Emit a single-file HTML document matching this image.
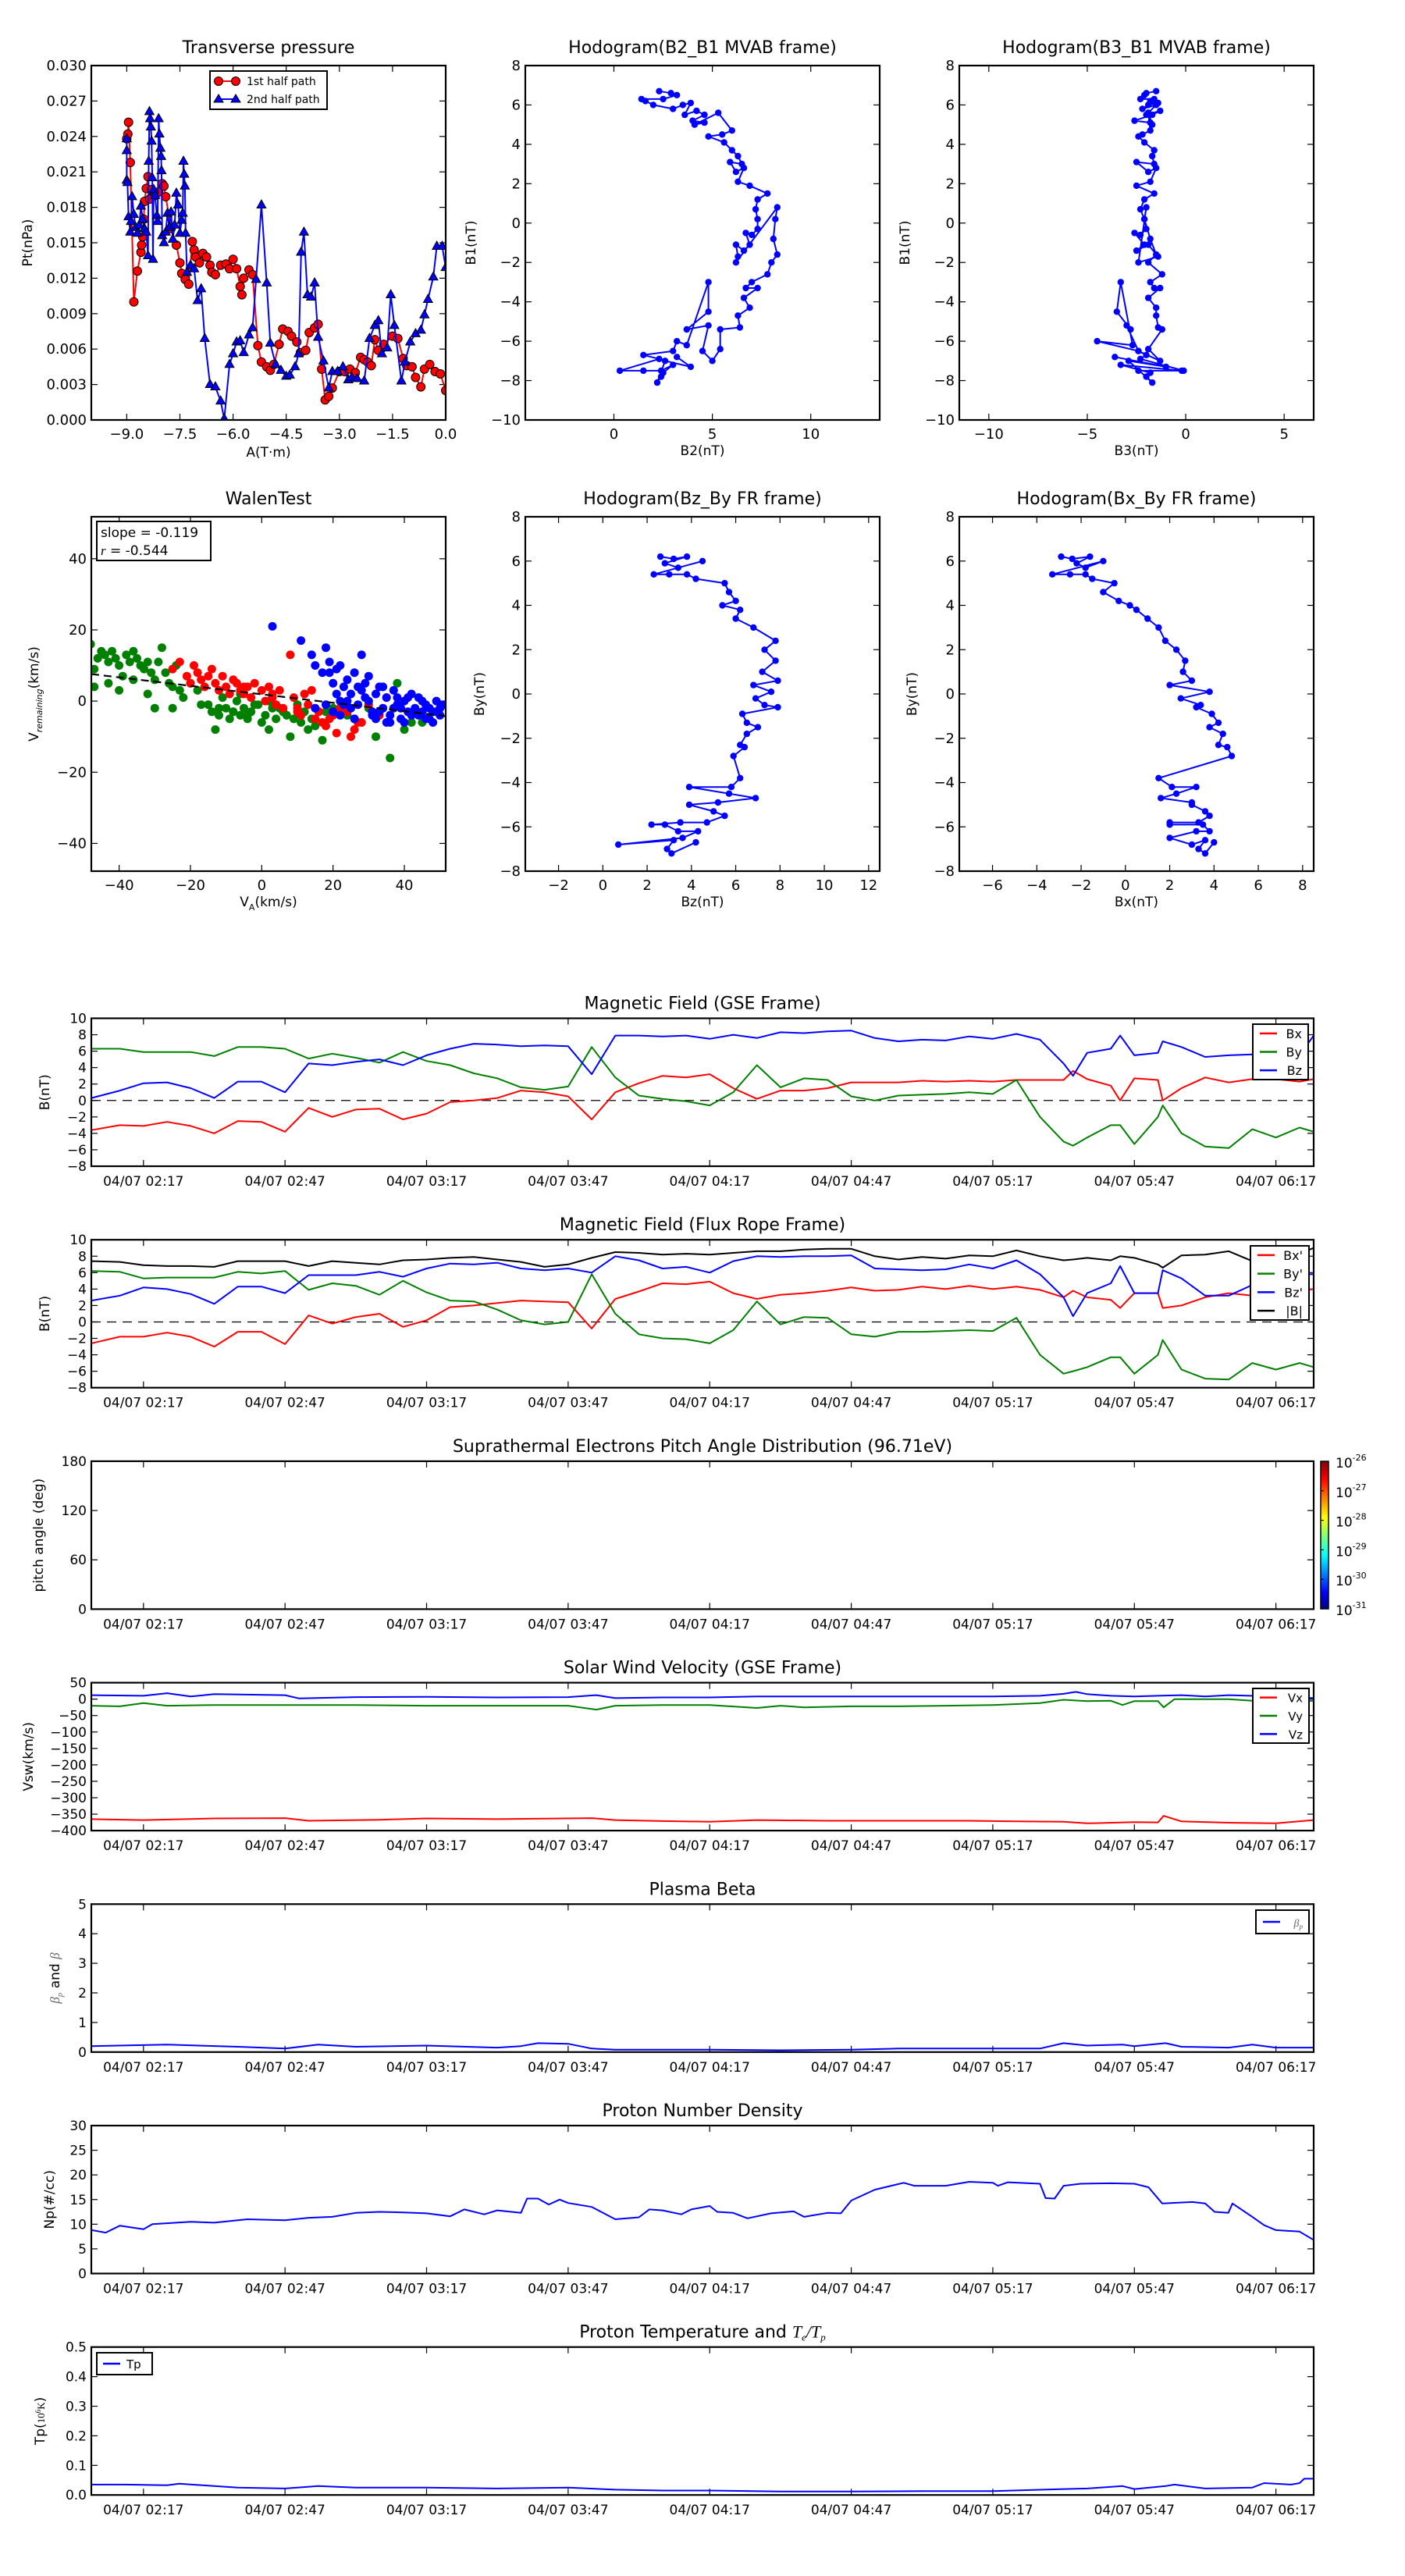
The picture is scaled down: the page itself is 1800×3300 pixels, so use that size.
<!DOCTYPE html>
<html><head><meta charset="utf-8"><title>Flux rope analysis</title>
<style>
html,body{margin:0;padding:0;background:#fff;}
svg{display:block;font-family:"DejaVu Sans","Liberation Sans",sans-serif;}
</style></head>
<body>
<svg id="chart" xmlns="http://www.w3.org/2000/svg" width="1800" height="3300" viewBox="0 0 1800 3300">
<rect x="0" y="0" width="1800" height="3300" fill="#fff"/>
<defs>
<linearGradient id="jet" x1="0" y1="1" x2="0" y2="0">
<stop offset="0" stop-color="#000080"/><stop offset="0.11" stop-color="#0000ff"/><stop offset="0.36" stop-color="#00ffff"/><stop offset="0.62" stop-color="#ffff00"/><stop offset="0.88" stop-color="#ff0000"/><stop offset="1" stop-color="#800000"/>
</linearGradient>
</defs>
</svg>
<script>
// ===== DATA =====
const tp1A=[-9.0,-8.97,-8.95,-8.9,-8.8,-8.7,-8.6,-8.58,-8.55,-8.52,-8.5,-8.45,-8.4,-8.35,-8.3,-8.2,-8.1,-8.0,-7.95,-7.9,-7.75,-7.6,-7.5,-7.45,-7.35,-7.25,-7.15,-7.1,-7.05,-6.95,-6.85,-6.75,-6.65,-6.6,-6.5,-6.35,-6.2,-6.1,-6.0,-5.9,-5.8,-5.75,-5.7,-5.55,-5.45,-5.3,-5.2,-5.05,-4.95,-4.85,-4.7,-4.6,-4.45,-4.35,-4.2,-4.1,-3.95,-3.85,-3.7,-3.6,-3.5,-3.4,-3.3,-3.2,-3.0,-2.85,-2.7,-2.55,-2.4,-2.3,-2.2,-2.1,-2.0,-1.9,-1.75,-1.5,-1.35,-1.2,-1.1,-0.95,-0.85,-0.7,-0.6,-0.45,-0.3,-0.15,0];
const tp1P=[23.8,24.2,25.2,21.8,10.0,12.6,14.2,14.8,15.5,17,18.5,19.6,20.6,18.7,19.5,19.0,19.3,20.0,19.8,18.9,16.2,14.8,13.3,12.4,11.9,11.5,15.1,14.4,13.8,13.3,14.1,13.8,13.1,12.5,12.3,13.1,13.2,12.8,13.6,12.8,11.3,10.6,12.0,12.7,12.3,6.3,4.9,4.5,4.2,4.7,6.4,7.7,7.5,7.1,6.6,5.7,5.9,7.4,7.8,8.1,4.3,1.7,2.0,2.7,4.1,4.1,4.3,4.0,5.3,5.1,4.9,4.6,6.8,5.9,6.4,7.1,6.9,5.2,4.6,4.5,3.6,2.8,4.3,4.7,4.1,3.9,2.5];
const tp2A=[-9.0,-9.0,-9.0,-8.98,-8.95,-8.9,-8.88,-8.85,-8.8,-8.75,-8.7,-8.65,-8.6,-8.55,-8.5,-8.45,-8.4,-8.38,-8.36,-8.34,-8.32,-8.3,-8.28,-8.26,-8.24,-8.2,-8.15,-8.13,-8.1,-8.08,-8.05,-8.03,-8.02,-8.0,-7.95,-7.9,-7.85,-7.8,-7.75,-7.7,-7.65,-7.6,-7.55,-7.5,-7.45,-7.42,-7.4,-7.38,-7.36,-7.34,-7.3,-7.2,-7.1,-7.0,-6.9,-6.8,-6.65,-6.5,-6.35,-6.25,-6.1,-6.0,-5.9,-5.8,-5.7,-5.55,-5.45,-5.35,-5.2,-5.05,-4.95,-4.8,-4.65,-4.5,-4.4,-4.25,-4.15,-4.08,-4.0,-3.9,-3.8,-3.7,-3.6,-3.45,-3.3,-3.2,-3.05,-2.9,-2.75,-2.65,-2.5,-2.3,-2.15,-2.0,-1.9,-1.8,-1.65,-1.55,-1.45,-1.25,-1.15,-1.0,-0.85,-0.7,-0.6,-0.5,-0.35,-0.25,-0.1,0];
const tp2P=[23.8,22.8,20.3,20.1,17.2,15.9,16.8,18.9,17.4,16.3,15.8,16.5,18.1,17.0,16.2,15.9,13.9,21.9,26.1,25.5,24.8,23.6,20.5,13.6,19.5,19.0,17.3,16.8,25.5,24.2,23.0,22.3,21.1,15.6,15.0,15.9,17.5,16.3,17.6,15.3,16.5,19.2,18.2,15.8,16.9,17.5,21.9,20.8,19.8,15.8,12.5,13.1,12.8,10.1,11.1,6.9,3.0,2.8,1.6,0.1,4.7,5.6,6.6,6.7,5.7,7.2,7.8,11.9,18.2,11.6,6.5,4.7,4.2,3.7,3.8,4.5,5.6,14.2,15.9,10.6,10.4,11.6,7.0,5.0,2.7,4.1,4.1,4.5,3.4,3.6,3.5,3.3,6.9,8.0,8.4,5.6,6.1,10.6,8.0,3.3,4.9,6.6,7.3,7.6,8.9,10.2,12.1,14.7,14.7,12.9];

const mvB1=[6.7,6.6,6.5,6.3,6.3,6.2,6.0,5.8,6.0,6.1,5.5,5.7,5.5,5.2,5.1,5.0,5.6,4.7,4.5,4.4,4.1,3.7,3.4,3.0,3.1,2.6,2.8,2.1,1.9,1.5,1.2,0.7,0.2,-0.3,-0.6,-0.5,-1.1,-1.4,-1.1,-1.7,-2.0,0.8,0.2,-0.8,-1.6,-2.0,-2.6,-3.0,-3.3,-3.3,-3.8,-4.3,-4.7,-5.3,-5.4,-6.4,-7.0,-6.5,-5.2,-5.4,-4.5,-3.0,-6.2,-6.0,-6.5,-6.7,-6.9,-7.5,-7.5,-7.5,-7.2,-7.6,-7.8,-8.1,-7.0,-7.3,-6.8];
const mvB2=[2.3,2.9,3.2,2.5,1.4,1.6,2.0,3.0,3.5,3.9,3.6,4.2,4.6,4.0,4.6,4.1,5.3,6.0,5.5,4.8,5.6,6.0,6.3,6.5,5.9,6.2,6.6,6.3,6.9,7.8,7.3,7.2,7.3,7.3,7.0,6.7,6.9,6.6,6.2,6.3,6.2,8.3,8.2,8.1,8.3,8.0,7.8,7.0,6.7,7.3,6.6,6.9,6.3,6.4,5.4,5.4,5.0,4.5,4.8,3.7,4.8,4.8,3.7,3.2,3.0,1.5,2.3,0.3,1.5,2.4,3.0,2.5,2.4,2.2,2.6,3.9,3.2];
const mvB3=[-1.5,-2.0,-2.1,-2.3,-1.6,-1.8,-1.5,-2.2,-1.9,-1.4,-2.0,-1.3,-1.7,-2.6,-1.8,-1.7,-1.9,-1.8,-2.2,-2.4,-2.1,-1.6,-1.7,-1.6,-2.5,-1.9,-1.5,-1.8,-2.5,-1.6,-2.1,-2.3,-2.1,-2.0,-2.3,-2.6,-2.1,-2.5,-1.9,-1.4,-2.4,-2.0,-2.1,-1.8,-1.5,-1.9,-1.2,-1.8,-1.6,-1.3,-1.9,-1.5,-1.5,-1.4,-1.2,-1.9,-1.3,-2.4,-3.0,-2.8,-3.5,-3.3,-2.7,-4.5,-2.4,-2.0,-2.3,-0.1,-2.4,-0.2,-3.3,-1.8,-2.0,-1.7,-2.9,-1.0,-3.6];

const walenGreenVA=[-48,-47,-46,-45,-44,-43,-42,-41,-40,-39,-38,-37,-36,-35,-34,-33,-32,-31,-30,-29,-28,-27,-26,-25,-24,-23,-32,-30,-25,-20,-18,-15,-14,-13,-12,-11,-10,-9,-8,-7,-6,-5,-4,-3,-2,0,1,2,3,4,6,8,9,11,13,15,17,18,20,24,28,30,32,36,38,40,45,-43,-40,-36,-47,-22,-17,-6,2,10,-12,-8,-4,-1,5,7,12,14,16,26,33,42];
const walenGreenVR=[16,4,12,14,13,11,14,12,10,7,13,11,14,12,10,9,11,8,6,11,15,8,5,4,10,3,2,-2,-2,5,3,-1,-3,-8,-4,1,-2,-5,-3,0,-4,-2,-5,-3,-1,-6,-4,-8,-2,-5,-3,-10,-5,-6,-8,-7,-11,-3,-2,-4,-6,-2,-10,-16,5,-8,-6,5,3,6,9,1,-1,2,0,-1,-2,-3,-4,-1,-2,-4,-3,-5,-3,-5,-3,-6];
const walenRedVA=[-25,-23,-21,-20,-19,-18,-17,-16,-15,-14,-13,-12,-11,-10,-9,-8,-7,-6,-5,-4,-3,-2,0,1,2,3,4,5,6,8,9,10,11,12,13,14,15,16,17,18,19,20,21,22,24,25,26,28,30,33,35,-5,3,10,20,27];
const walenRedVR=[9,11,7,5,10,8,6,4,7,9,5,3,7,4,2,6,5,3,2,4,1,5,3,0,4,2,-1,3,-2,13,1,-3,-4,2,-1,3,-5,-3,-6,-7,-5,-4,-9,-2,-3,-10,-8,-6,-1,-4,1,4,1,-2,-3,-6];
const walenBlueVA=[3,11,14,18,22,28,15,17,19,20,21,23,24,25,26,27,28,29,30,31,32,33,34,35,36,37,38,39,40,41,42,43,44,45,46,47,48,49,50,51,18,20,22,24,26,30,32,34,36,38,40,42,44,46,48,50,22,25,27,33,37,41,45,35,15,19,21,23,29,31,39,43,47,49];
const walenBlueVR=[21,17,13,15,10,13,10,8,11,5,9,4,6,2,8,-1,3,5,0,-3,2,4,-2,1,-4,3,-1,-5,0,-3,2,-2,-4,0,-5,-2,-3,0,-4,-1,-1,-3,-4,0,-5,7,-5,4,-6,1,-6,-4,1,-1,-6,-2,0,-2,4,-3,-2,1,-3,-6,-2,8,2,-1,1,-4,-2,-3,-5,-3];
const walenFit=[-0.119,1.9];
const walenStats=["-0.119","-0.544"];

const frhBz=[2.6,3.2,3.8,2.8,3.4,4.5,2.3,3.0,3.8,4.2,5.5,5.7,6.0,5.4,6.2,6.0,6.8,7.8,7.3,7.8,7.2,7.9,6.8,7.6,6.9,7.3,7.9,6.3,6.5,7.0,6.5,6.2,6.4,5.9,6.2,5.8,3.9,5.7,6.9,5.2,3.9,5.0,5.5,4.7,3.5,2.2,2.8,3.4,4.3,3.6,0.7,3.2,2.9,3.1,4.2];
const frhBy=[6.2,6.1,6.2,5.9,5.7,6.0,5.4,5.4,5.4,5.2,5.0,4.6,4.2,4.0,3.8,3.4,3.0,2.4,2.0,1.5,1.0,0.6,0.4,0.1,-0.2,-0.5,-0.6,-0.9,-1.3,-1.5,-1.8,-2.3,-2.4,-2.8,-3.8,-4.2,-4.2,-4.5,-4.7,-4.9,-5.0,-5.3,-5.5,-5.8,-5.8,-5.9,-5.9,-6.2,-6.2,-6.5,-6.8,-6.6,-7.0,-7.2,-6.7];
const frhBx=[-2.9,-2.4,-1.6,-2.2,-1.8,-1.0,-3.3,-2.5,-1.8,-1.5,-0.5,-1.0,-0.3,0.2,0.5,1.0,1.5,1.8,2.3,2.7,2.6,3.0,2.0,3.8,2.5,3.4,3.2,3.9,4.2,3.8,4.4,4.2,4.6,4.8,1.5,2.1,3.2,2.3,1.6,3.0,3.0,3.6,3.8,3.3,2.0,2.0,3.5,3.8,3.2,2.0,3.0,3.6,3.3,3.6,4.0];

const tickTimes=[0,30,60,90,120,150,180,210,240];
const tickLabels=["04/07 02:17","04/07 02:47","04/07 03:17","04/07 03:47","04/07 04:17","04/07 04:47","04/07 05:17","04/07 05:47","04/07 06:17"];
const magT=[-11,-5,0,5,10,15,20,25,30,35,40,45,50,55,60,65,70,75,80,85,90,95,100,105,110,115,120,125,130,135,140,145,150,155,160,165,170,175,180,185,190,195,197,200,205,207,210,215,216,220,225,230,235,240,245,248];
const gseBx=[-3.6,-3.0,-3.1,-2.6,-3.1,-4.0,-2.5,-2.6,-3.8,-0.9,-2.0,-1.1,-1.0,-2.3,-1.6,-0.2,0.0,0.3,1.2,1.0,0.5,-2.3,1.0,2.1,3.0,2.8,3.2,1.5,0.2,1.2,1.2,1.5,2.2,2.2,2.2,2.4,2.3,2.4,2.3,2.5,2.5,2.5,3.6,2.6,1.8,0.0,2.7,2.5,0.0,1.5,2.8,2.2,2.6,2.6,2.3,2.6];
const gseBy=[6.3,6.3,5.9,5.9,5.9,5.4,6.5,6.5,6.3,5.1,5.7,5.2,4.6,5.9,4.8,4.3,3.3,2.7,1.6,1.3,1.7,6.5,2.8,0.6,0.2,-0.1,-0.6,1.0,4.3,1.6,2.7,2.5,0.5,0.0,0.6,0.7,0.8,1.0,0.8,2.5,-2.0,-5.0,-5.5,-4.5,-3.0,-3.0,-5.3,-2.0,-0.6,-4.0,-5.6,-5.8,-3.5,-4.5,-3.3,-3.8];
const gseBz=[0.3,1.2,2.1,2.2,1.5,0.3,2.3,2.3,1.0,4.5,4.3,4.7,5.0,4.3,5.5,6.3,6.9,6.8,6.6,6.7,6.6,3.2,7.9,7.9,7.8,7.9,7.5,8.0,7.6,8.3,8.2,8.4,8.5,7.6,7.2,7.4,7.3,7.8,7.5,8.1,7.4,4.5,3.0,5.8,6.3,7.9,5.5,5.8,7.2,6.5,5.3,5.5,5.6,5.5,5.5,7.9];
const frBx=[-2.6,-1.8,-1.8,-1.3,-1.8,-3.0,-1.2,-1.2,-2.7,0.8,-0.2,0.6,1.0,-0.6,0.2,1.8,2.0,2.3,2.6,2.5,2.4,-0.8,2.8,3.7,4.7,4.6,4.9,3.5,2.8,3.3,3.5,3.8,4.2,3.8,3.9,4.3,4.0,4.4,4.0,4.3,3.9,3.0,3.8,3.0,2.7,1.7,3.5,3.5,1.7,2.0,3.0,3.5,3.2,3.5,3.8,4.0];
const frBy=[6.2,6.1,5.3,5.4,5.4,5.4,6.1,5.9,6.2,3.9,4.7,4.4,3.3,5.0,3.6,2.6,2.5,1.5,0.2,-0.3,0.0,5.8,1.0,-1.5,-2.0,-2.1,-2.6,-1.0,2.5,-0.3,0.6,0.5,-1.5,-1.8,-1.2,-1.2,-1.1,-1.0,-1.1,0.5,-4.0,-6.3,-6.0,-5.5,-4.3,-4.3,-6.3,-4.0,-2.2,-5.8,-6.9,-7.0,-5.0,-5.8,-5.0,-5.5];
const frBz=[2.6,3.2,4.2,4.0,3.4,2.2,4.3,4.3,3.5,5.7,5.7,5.7,6.1,5.5,6.5,7.1,7.0,7.2,6.5,6.3,6.5,6.0,8.0,7.5,6.5,6.7,6.0,7.4,8.0,7.9,8.0,8.0,8.1,6.5,6.4,6.3,6.4,7.0,6.5,7.5,5.8,3.0,0.7,3.5,4.7,6.8,3.5,3.5,6.3,5.3,3.2,3.2,4.5,5.0,5.8,5.8];
const frBt=[7.4,7.3,6.9,6.8,6.8,6.7,7.4,7.4,7.4,6.8,7.4,7.2,7.0,7.5,7.6,7.8,7.9,7.6,7.3,6.7,7.0,7.8,8.5,8.4,8.2,8.3,8.2,8.4,8.6,8.6,8.8,8.9,8.9,8.0,7.6,7.9,7.7,8.1,8.0,8.7,8.0,7.5,7.6,7.8,7.5,8.0,7.8,7.0,6.6,8.1,8.2,8.6,7.4,8.0,8.3,9.0];
const vxT=[-11,0,15,30,35,50,60,75,95,100,110,120,130,145,160,175,185,195,200,210,215,216.2,220,230,240,248];
const vxV=[-365,-368,-363,-362,-370,-367,-363,-365,-362,-368,-371,-373,-368,-370,-370,-370,-372,-373,-378,-374,-375,-355,-372,-376,-378,-368];
const vyT=[-11,-5,0,5,15,30,45,60,75,90,96,100,110,120,130,135,140,150,160,170,180,190,195,200,205,207.5,210,215,216.2,218.5,230,235,240,248];
const vyV=[-20,-22,-12,-20,-18,-18,-18,-20,-20,-20,-32,-20,-18,-18,-27,-20,-25,-22,-22,-20,-18,-12,-2,-6,-5,-18,-6,-6,-25,0,0,-5,-10,-5];
const vzT=[-11,0,5,10,15,30,33,45,60,75,90,96,100,110,120,130,145,160,180,190,195,197.6,200,205,210,215,220,225,230,240,248];
const vzV=[12,10,18,8,15,12,2,6,7,5,6,12,3,5,5,8,8,8,8,10,16,22,15,10,8,10,12,8,12,8,3];
const betaT=[-11,5,20,30,37,45,60,75,80,83.6,90,95,100,110,120,135,150,160,175,190,195,200,207.5,210,216.6,220,230,235,240,248];
const betaV=[0.2,0.25,0.18,0.12,0.25,0.18,0.22,0.15,0.2,0.3,0.28,0.12,0.08,0.08,0.08,0.06,0.08,0.12,0.12,0.12,0.3,0.22,0.25,0.2,0.3,0.18,0.15,0.25,0.15,0.15];
const npT=[-11,-8,-5,0,1.9,10,15,22,30,35,40,45,50,55,60,65,68,72.2,75,80,81.3,83.6,85.9,88.2,90,95,100,105,107.2,110,114,116.1,120,121.6,125,128,133,137.8,140,145,147.8,150,155,161.1,163.4,170,175,180,181.1,183.2,190,191.2,193.1,195,198.6,205,210,213,215.9,222.3,225,227,229.9,230.8,235,237.5,240,245,248];
const npV=[8.8,8.3,9.7,9.0,10,10.5,10.3,11,10.8,11.3,11.5,12.3,12.5,12.4,12.2,11.6,13.0,12.0,12.8,12.3,15.2,15.2,14.0,15.0,14.3,13.5,11.0,11.4,13.0,12.8,12.0,13.0,13.7,12.5,12.3,11.2,12.2,12.6,11.5,12.3,12.2,14.8,17.0,18.4,17.8,17.8,18.6,18.4,17.8,18.5,18.2,15.3,15.2,17.8,18.2,18.3,18.2,17.5,14.2,14.5,14.2,12.5,12.3,14.2,11.5,9.8,8.8,8.5,6.8];
const tpT=[-11,-3.8,5,7.6,15,20,30,37,45,60,75,90,100,110,120,135,150,165,180,195,200,207.5,210,216.6,218.5,225,235,237.5,243.2,245,246,248];
const tpV=[0.035,0.035,0.033,0.038,0.03,0.025,0.022,0.03,0.025,0.025,0.022,0.025,0.018,0.015,0.015,0.012,0.012,0.013,0.013,0.02,0.022,0.03,0.02,0.03,0.035,0.022,0.025,0.04,0.035,0.04,0.055,0.055];
const cbarLabels=["-26","-27","-28","-29","-30","-31"];

// ===== DRAWING =====
const NS='http://www.w3.org/2000/svg';
const svg=document.getElementById('chart');
function mk(parent,tag,name,attrs,text){
  const el=document.createElementNS(NS,tag);
  
  
  for(const k in attrs) el.setAttribute(k,attrs[k]);
  if(text!==undefined) el.textContent=text;
  parent.appendChild(el);
  return el;
}
function lin(d0,d1,r0,r1){return v=>r0+(v-d0)*(r1-r0)/(d1-d0);}
let clipId=0;
function fmtNum(v,dec){const s=Math.abs(v).toFixed(dec);return (v<0?'\u2212':'')+s;}
function axes(o){
  const g=mk(svg,'g',o.name,{});
  const sx=lin(o.xd[0],o.xd[1],o.x0,o.x1), sy=lin(o.yd[0],o.yd[1],o.y1,o.y0);
  const cid='clip'+(clipId++);
  const cp=mk(g,'clipPath','clip-region',{id:cid});
  mk(cp,'rect','clip-rect',{x:o.x0,y:o.y0,width:o.x1-o.x0,height:o.y1-o.y0});
  const fs=o.fs||18;
  o.xt.forEach((v,i)=>{
    const x=sx(v);
    mk(g,'line','x-tick',{x1:x,x2:x,y1:o.y1,y2:o.y1-8,stroke:'#000','stroke-width':1.2});
    mk(g,'line','x-tick-top',{x1:x,x2:x,y1:o.y0,y2:o.y0+8,stroke:'#000','stroke-width':1.2});
    mk(g,'text','x-tick-label',{x:x,y:o.y1+(o.xly||23),'text-anchor':'middle','font-size':o.xfs||fs,fill:'#000'},o.xl[i]);
  });
  o.yt.forEach((v,i)=>{
    const y=sy(v);
    mk(g,'line','y-tick',{x1:o.x0,x2:o.x0+8,y1:y,y2:y,stroke:'#000','stroke-width':1.2});
    mk(g,'line','y-tick-right',{x1:o.x1,x2:o.x1-8,y1:y,y2:y,stroke:'#000','stroke-width':1.2});
    mk(g,'text','y-tick-label',{x:o.x0-6,y:y+6,'text-anchor':'end','font-size':fs,fill:'#000'},o.yl[i]);
  });
  if(o.title){
    const t=mk(g,'text','chart-title',{x:(o.x0+o.x1)/2,y:o.y0-(o.ty||12),'text-anchor':'middle','font-size':o.tfs||22,fill:'#000'});
    t.innerHTML=o.title;
  }
  if(o.xlabel){
    const t=mk(g,'text','x-axis-title',{x:(o.x0+o.x1)/2,y:o.xlabY,'text-anchor':'middle','font-size':17,fill:'#000'});
    t.innerHTML=o.xlabel;
  }
  if(o.ylabel){
    const ym=(o.y0+o.y1)/2;
    const t=mk(g,'text','y-axis-title',{x:o.ylabX,y:ym,'text-anchor':'middle','font-size':o.ylfs||17,fill:'#000',transform:`rotate(-90 ${o.ylabX} ${ym})`});
    t.innerHTML=o.ylabel;
  }
  const data=mk(g,'g','plot-area',{'clip-path':`url(#${cid})`});
  mk(g,'rect','axes-frame',{x:o.x0,y:o.y0,width:o.x1-o.x0,height:o.y1-o.y0,fill:'none',stroke:'#000','stroke-width':2.2});
  return {g,data,sx,sy,o};
}
function line(ax,xs,ys,color,name,w){
  const pts=xs.map((x,i)=>ax.sx(x).toFixed(1)+','+ax.sy(ys[i]).toFixed(1)).join(' ');
  return mk(ax.data,'polyline',name,{points:pts,fill:'none',stroke:color,'stroke-width':w||2,'stroke-linejoin':'round'});
}
function dots(ax,xs,ys,color,name,r,edge){
  xs.forEach((x,i)=>{
    const c=mk(ax.data,'circle',name,{cx:ax.sx(x).toFixed(1),cy:ax.sy(ys[i]).toFixed(1),r:r,fill:color});
    if(edge){c.setAttribute('stroke','#000');c.setAttribute('stroke-width','1');}
  });
}
function tris(ax,xs,ys,color,name,s){
  xs.forEach((x,i)=>{
    const cx=ax.sx(x),cy=ax.sy(ys[i]);
    mk(ax.data,'polygon',name,{points:`${cx},${cy-s} ${cx-s*0.9},${cy+s*0.6} ${cx+s*0.9},${cy+s*0.6}`,fill:color,stroke:'#000','stroke-width':1});
  });
}
function rng(a,b,s){const r=[];for(let v=a;v<=b+1e-9;v+=s)r.push(+v.toFixed(6));return r;}
function legend(x0,y0,x1,y1,entries,fs,name){
  const g=mk(svg,'g',name,{});
  mk(g,'rect','legend-box',{x:x0,y:y0,width:x1-x0,height:y1-y0,fill:'#fff',stroke:'#000','stroke-width':2});
  const n=entries.length, h=(y1-y0)/n;
  entries.forEach((e,i)=>{
    const y=y0+h*(i+0.5);
    mk(g,'line','legend-swatch',{x1:x0+9,x2:x0+31,y1:y,y2:y,stroke:e[0],'stroke-width':2.5});
    const t=mk(g,'text','legend-label',{x:x1-8,y:y+6,'text-anchor':'end','font-size':fs||16,fill:'#000'});
    t.innerHTML=e[1];
  });
}

// ---- Transverse pressure ----
const axTP=axes({name:'transverse-pressure-chart',x0:117,x1:571,y0:84,y1:538,xd:[-10,0],yd:[0,0.03],
  xt:rng(-9,0,1.5),xl:rng(-9,0,1.5).map(v=>fmtNum(v,1)),yt:rng(0,0.03,0.003),yl:rng(0,0.03,0.003).map(v=>v.toFixed(3)),
  title:'Transverse pressure',ty:16,xlabel:'A(T·m)',xlabY:585,ylabel:'Pt(nPa)',ylabX:41,xly:24});
line(axTP,tp1A,tp1P.map(v=>v/1000),'#ff0000','first-half-line',2);
dots(axTP,tp1A,tp1P.map(v=>v/1000),'#ff0000','first-half-marker',5.5,true);
line(axTP,tp2A,tp2P.map(v=>v/1000),'#0000ff','second-half-line',2);
tris(axTP,tp2A,tp2P.map(v=>v/1000),'#0000ff','second-half-marker',6.5);
(function(){
  const g=mk(svg,'g','tp-legend',{});
  mk(g,'rect','legend-box',{x:269,y:91,width:150,height:49,fill:'#fff',stroke:'#000','stroke-width':2});
  mk(g,'line','legend-swatch',{x1:280,x2:302,y1:104,y2:104,stroke:'#ff0000','stroke-width':2});
  mk(g,'circle','legend-marker',{cx:280,cy:104,r:5.5,fill:'#ff0000',stroke:'#000'});
  mk(g,'circle','legend-marker',{cx:302,cy:104,r:5.5,fill:'#ff0000',stroke:'#000'});
  mk(g,'text','legend-label',{x:316,y:109,'font-size':14,fill:'#000'},'1st half path');
  mk(g,'line','legend-swatch',{x1:280,x2:302,y1:127,y2:127,stroke:'#0000ff','stroke-width':2});
  mk(g,'polygon','legend-marker',{points:'280,121 274,131 286,131',fill:'#0000ff',stroke:'#000'});
  mk(g,'polygon','legend-marker',{points:'302,121 296,131 308,131',fill:'#0000ff',stroke:'#000'});
  mk(g,'text','legend-label',{x:316,y:132,'font-size':14,fill:'#000'},'2nd half path');
})();

// ---- MVAB hodograms ----
const yT8=rng(-10,8,2);
const axH1=axes({name:'hodogram-b2-b1-chart',x0:673,x1:1127,y0:84,y1:538,xd:[-4.5,13.5],yd:[-10,8],
  xt:[0,5,10],xl:['0','5','10'],yt:yT8,yl:yT8.map(v=>fmtNum(v,0)),
  title:'Hodogram(B2_B1 MVAB frame)',ty:16,xlabel:'B2(nT)',xlabY:583,ylabel:'B1(nT)',ylabX:609,xly:24});
line(axH1,mvB2,mvB1,'#0000ff','hodogram-line',2);
dots(axH1,mvB2,mvB1,'#0000ff','hodogram-point',4.2);
const axH2=axes({name:'hodogram-b3-b1-chart',x0:1229,x1:1683,y0:84,y1:538,xd:[-11.5,6.5],yd:[-10,8],
  xt:[-10,-5,0,5],xl:['\u221210','\u22125','0','5'],yt:yT8,yl:yT8.map(v=>fmtNum(v,0)),
  title:'Hodogram(B3_B1 MVAB frame)',ty:16,xlabel:'B3(nT)',xlabY:583,ylabel:'B1(nT)',ylabX:1165,xly:24});
line(axH2,mvB3,mvB1,'#0000ff','hodogram-line',2);
dots(axH2,mvB3,mvB1,'#0000ff','hodogram-point',4.2);

// ---- Walen test ----
const wT=[-40,-20,0,20,40];
const axW=axes({name:'walen-test-chart',x0:117,x1:571,y0:662,y1:1116,xd:[-47.8,51.6],yd:[-47.8,51.8],
  xt:wT,xl:wT.map(v=>fmtNum(v,0)),yt:wT,yl:wT.map(v=>fmtNum(v,0)),
  title:'WalenTest',ty:16,xlabel:'V<tspan font-size="11" dy="5">A</tspan><tspan dy="-5">(km/s)</tspan>',xlabY:1161,
  ylabel:'V<tspan font-size="11" dy="5" font-style="italic">remaining</tspan><tspan dy="-5">(km/s)</tspan>',ylabX:49,xly:24});
dots(axW,walenGreenVA,walenGreenVR,'#008000','walen-point-green',5.5);
dots(axW,walenRedVA,walenRedVR,'#ff0000','walen-point-red',5.5);
dots(axW,walenBlueVA,walenBlueVR,'#0000ff','walen-point-blue',5.5);
mk(axW.data,'line','walen-fit-line',{x1:axW.sx(-47.8),y1:axW.sy(walenFit[0]*-47.8+walenFit[1]),x2:axW.sx(51.6),y2:axW.sy(walenFit[0]*51.6+walenFit[1]),stroke:'#000','stroke-width':2.2,'stroke-dasharray':'10,6'});
(function(){
  const g=mk(svg,'g','walen-stats-box',{});
  mk(g,'rect','legend-box',{x:124,y:668,width:146,height:50,fill:'#fff',stroke:'#000','stroke-width':2});
  mk(g,'text','slope-text',{x:129,y:688,'font-size':17,fill:'#000'},'slope = '+walenStats[0]);
  const t=mk(g,'text','r-text',{x:129,y:711,'font-size':17,fill:'#000'});
  t.innerHTML='<tspan font-style="italic" font-family="Liberation Serif,serif">r</tspan> = '+walenStats[1];
})();

// ---- FR hodograms ----
const yT8b=rng(-8,8,2);
const axH3=axes({name:'hodogram-bz-by-chart',x0:673,x1:1127,y0:662,y1:1116,xd:[-3.5,12.5],yd:[-8,8],
  xt:rng(-2,12,2),xl:rng(-2,12,2).map(v=>fmtNum(v,0)),yt:yT8b,yl:yT8b.map(v=>fmtNum(v,0)),
  title:'Hodogram(Bz_By FR frame)',ty:16,xlabel:'Bz(nT)',xlabY:1161,ylabel:'By(nT)',ylabX:620,xly:24});
line(axH3,frhBz,frhBy,'#0000ff','hodogram-line',2);
dots(axH3,frhBz,frhBy,'#0000ff','hodogram-point',4.2);
const axH4=axes({name:'hodogram-bx-by-chart',x0:1229,x1:1683,y0:662,y1:1116,xd:[-7.5,8.5],yd:[-8,8],
  xt:rng(-6,8,2),xl:rng(-6,8,2).map(v=>fmtNum(v,0)),yt:yT8b,yl:yT8b.map(v=>fmtNum(v,0)),
  title:'Hodogram(Bx_By FR frame)',ty:16,xlabel:'Bx(nT)',xlabY:1161,ylabel:'By(nT)',ylabX:1174,xly:24});
line(axH4,frhBx,frhBy,'#0000ff','hodogram-line',2);
dots(axH4,frhBx,frhBy,'#0000ff','hodogram-point',4.2);

// ---- Time series panels ----
const TD=[-11.05,248.0];
function panel(k,name,yd,yt,yl,title,ylabel,ylabX,x1){
  const y0=1304.5+283.7*k;
  return axes({name:name,x0:117,x1:x1||1683,y0:y0,y1:y0+189.5,xd:TD,yd:yd,xt:tickTimes,xl:tickLabels,
    yt:yt,yl:yl,title:title,ty:12,ylabel:ylabel,ylabX:ylabX,fs:17,xfs:17,xly:25,ylfs:17});
}
const bT=rng(-8,10,2);
const axG=panel(0,'gse-field-chart',[-8,10],bT,bT.map(v=>fmtNum(v,0)),'Magnetic Field (GSE Frame)','B(nT)',63);
mk(axG.data,'line','zero-line',{x1:117,x2:1683,y1:axG.sy(0),y2:axG.sy(0),stroke:'#000','stroke-width':1.3,'stroke-dasharray':'12,8'});
line(axG,magT,gseBx,'#ff0000','bx-line',2);
line(axG,magT,gseBy,'#008000','by-line',2);
line(axG,magT,gseBz,'#0000ff','bz-line',2);
legend(1605,1312,1676,1383,[['#ff0000','Bx'],['#008000','By'],['#0000ff','Bz']],16,'gse-legend');

const axF=panel(1,'fluxrope-field-chart',[-8,10],bT,bT.map(v=>fmtNum(v,0)),'Magnetic Field (Flux Rope Frame)','B(nT)',63);
mk(axF.data,'line','zero-line',{x1:117,x2:1683,y1:axF.sy(0),y2:axF.sy(0),stroke:'#000','stroke-width':1.3,'stroke-dasharray':'12,8'});
line(axF,magT,frBx,'#ff0000','bx-prime-line',2);
line(axF,magT,frBy,'#008000','by-prime-line',2);
line(axF,magT,frBz,'#0000ff','bz-prime-line',2);
line(axF,magT,frBt,'#000000','btotal-line',2);
legend(1602,1596,1677,1691,[['#ff0000',"Bx'"],['#008000',"By'"],['#0000ff',"Bz'"],['#000','|B|']],16,'fr-legend');

const axP=panel(2,'pitch-angle-chart',[0,180],[0,60,120,180],['0','60','120','180'],'Suprathermal Electrons Pitch Angle Distribution (96.71eV)','pitch angle (deg)',55);
(function(){
  const g=mk(svg,'g','colorbar',{});
  mk(g,'rect','colorbar-gradient',{x:1692,y:1872,width:10,height:189,fill:'url(#jet)',stroke:'#000','stroke-width':1.5});
  cbarLabels.forEach((s,i)=>{
    const y=1872+i*189/5;
    mk(g,'line','colorbar-tick',{x1:1692,x2:1696,y1:y,y2:y,stroke:'#000'});
    const t=mk(g,'text','colorbar-label',{x:1711,y:y+8,'font-size':17,fill:'#000'});
    t.innerHTML='10<tspan font-size="11" dy="-9">'+s+'</tspan>';
  });
})();

const vT=rng(-400,50,50);
const axV=panel(3,'velocity-chart',[-400,50],vT,vT.map(v=>fmtNum(v,0)),'Solar Wind Velocity (GSE Frame)','Vsw(km/s)',42);
line(axV,vxT,vxV,'#ff0000','vx-line',2);
line(axV,vyT,vyV,'#008000','vy-line',2);
line(axV,vzT,vzV,'#0000ff','vz-line',2);
legend(1605,2163,1677,2233,[['#ff0000','Vx'],['#008000','Vy'],['#0000ff','Vz']],15,'velocity-legend');

const axB=panel(4,'plasma-beta-chart',[0,5],[0,1,2,3,4,5],['0','1','2','3','4','5'],'Plasma Beta',
  '<tspan font-family="Liberation Serif,serif" font-style="italic" fill="#666">β<tspan font-size="11" dy="4">p</tspan></tspan><tspan dy="-4"> and </tspan><tspan font-family="Liberation Serif,serif" font-style="italic" fill="#666">β</tspan>',76);
line(axB,betaT,betaV,'#0000ff','beta-line',2);
legend(1609,2447,1677,2477,[['#0000ff','<tspan font-family="Liberation Serif,serif" font-style="italic" fill="#666">β<tspan font-size="9" dy="3">p</tspan></tspan>']],14,'beta-legend');

const nT=rng(0,30,5);
const axN=panel(5,'density-chart',[0,30],nT,nT.map(v=>v.toFixed(0)),'Proton Number Density','Np(#/cc)',69);
line(axN,npT,npV,'#0000ff','density-line',2);

const tT=rng(0,0.5,0.1);
const axT=panel(6,'temperature-chart',[0,0.5],tT,tT.map(v=>v.toFixed(1)),
  'Proton Temperature and <tspan font-family="Liberation Serif,serif" font-style="italic">T<tspan font-size="13" dy="4">e</tspan><tspan dy="-4">/T</tspan><tspan font-size="13" dy="4">p</tspan></tspan>',
  'Tp(<tspan font-family="Liberation Serif,serif" font-size="13">10<tspan font-size="9" dy="-5">6</tspan><tspan dy="5">K</tspan></tspan>)',57);
line(axT,tpT,tpV,'#0000ff','temperature-line',2);
(function(){
  const g=mk(svg,'g','temperature-legend',{});
  mk(g,'rect','legend-box',{x:124,y:3014,width:71,height:28,fill:'#fff',stroke:'#000','stroke-width':2});
  mk(g,'line','legend-swatch',{x1:132,x2:154,y1:3028,y2:3028,stroke:'#0000ff','stroke-width':2.5});
  mk(g,'text','legend-label',{x:162,y:3034,'font-size':15,fill:'#000'},'Tp');
})();
</script>
</body></html>
